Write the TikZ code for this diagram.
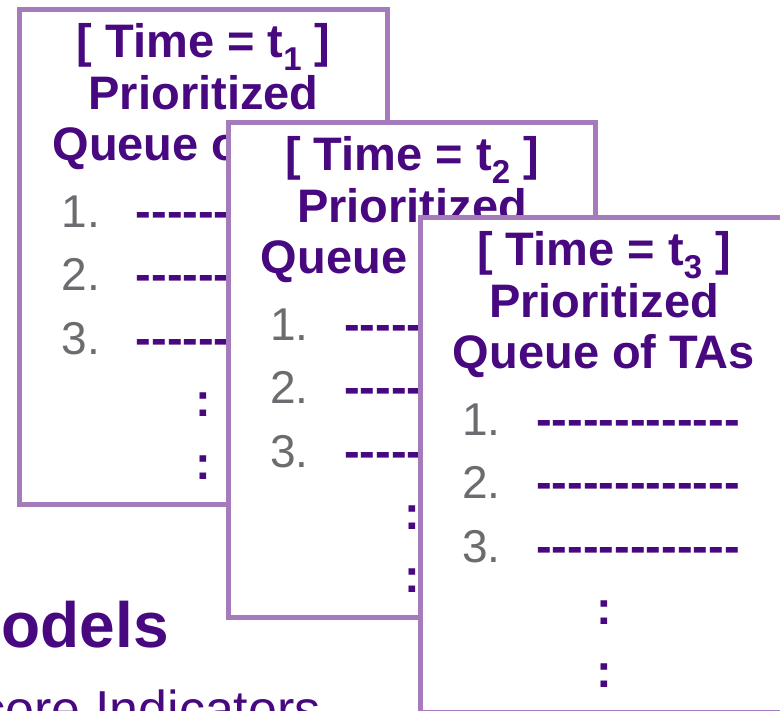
\documentclass[tikz,border=0pt]{standalone}
\usepackage{fontspec}
\setmainfont{Liberation Sans}
\definecolor{qpurple}{RGB}{72,8,128}
\definecolor{qborder}{RGB}{165,123,187}
\definecolor{qgray}{RGB}{108,108,112}
\tikzset{
  cardbox/.style={draw=qborder, line width=5pt, fill=white, outer sep=0pt, inner sep=0pt,
    minimum width=367.5pt, minimum height=495pt, anchor=north west},
  headtext/.style={text=qpurple, font=\fontsize{47}{47}\selectfont\bfseries, inner sep=0pt, anchor=base},
  numtext/.style={text=qgray, font=\fontsize{46}{46}\selectfont, inner sep=0pt, anchor=base west},
  dashtext/.style={text=qpurple, font=\fontsize{47}{47}\selectfont\bfseries, inner sep=0pt, anchor=base west},
  colontext/.style={text=qpurple, font=\fontsize{47}{47}\selectfont\bfseries, inner sep=0pt, anchor=base},
}
\newcommand\qsubscript[1]{\raisebox{-13pt}{\fontsize{33}{33}\selectfont\bfseries #1}}
\newcommand\qdashes{-{}-{}-{}-{}-{}-{}-{}-{}-{}-{}-{}-{}-{}}
\newcommand\qcard[4]{%
  \begin{scope}[shift={(#2,#3)}]
    \node[cardbox] (#1) at (0,0) {};
    \node[headtext] (#1h1) at (184,48) {[ Time = t\qsubscript{#4} ]};
    \node[headtext] (#1h2) at (184,100) {Prioritized};
    \node[headtext] (#1h3) at (184,151) {Queue of TAs};
    \node[numtext] (#1n1) at (42,218) {1.};
    \node[numtext] (#1n2) at (42,281) {2.};
    \node[numtext] (#1n3) at (42,345) {3.};
    \node[dashtext] (#1d1) at (116,218) {\qdashes};
    \node[dashtext] (#1d2) at (116,281) {\qdashes};
    \node[dashtext] (#1d3) at (116,345) {\qdashes};
    \node[colontext] (#1c1) at (184,407) {:};
    \node[colontext] (#1c2) at (184,470) {:};
  \end{scope}}
\begin{document}
\begin{tikzpicture}[x=1pt,y=-1pt]
\useasboundingbox (0,0) rectangle (780,711);
\node[text=qpurple, font=\fontsize{64}{64}\selectfont\bfseries, inner sep=0pt, anchor=base east] (models) at (169,647) {models};
\node[text=qpurple, font=\fontsize{52}{52}\selectfont, inner sep=0pt, anchor=base west] (indicators) at (-20.5,727) {core Indicators};
\qcard{cardA}{19.5}{9.5}{1}
\qcard{cardB}{228}{122.5}{2}
\qcard{cardC}{420}{217.3}{3}
\end{tikzpicture}
\end{document}
